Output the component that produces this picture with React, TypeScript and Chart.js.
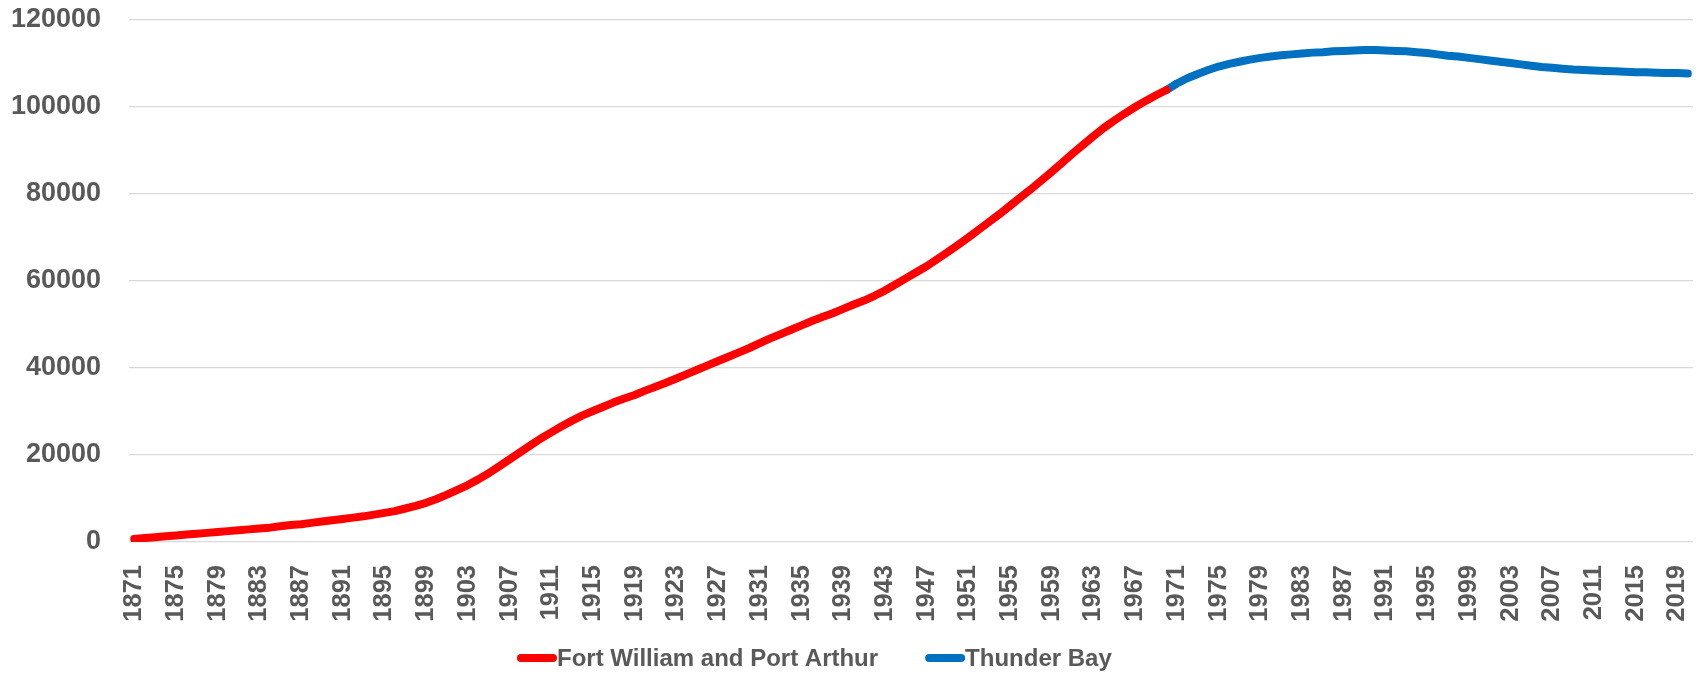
import React, { useEffect, useRef } from "react";
import { Chart, registerables } from "chart.js";

Chart.register(...registerables);

// Years 1871..2020 (one category per year)
const years: string[] = [
  "1871","1872","1873","1874","1875","1876","1877","1878","1879","1880",
  "1881","1882","1883","1884","1885","1886","1887","1888","1889","1890",
  "1891","1892","1893","1894","1895","1896","1897","1898","1899","1900",
  "1901","1902","1903","1904","1905","1906","1907","1908","1909","1910",
  "1911","1912","1913","1914","1915","1916","1917","1918","1919","1920",
  "1921","1922","1923","1924","1925","1926","1927","1928","1929","1930",
  "1931","1932","1933","1934","1935","1936","1937","1938","1939","1940",
  "1941","1942","1943","1944","1945","1946","1947","1948","1949","1950",
  "1951","1952","1953","1954","1955","1956","1957","1958","1959","1960",
  "1961","1962","1963","1964","1965","1966","1967","1968","1969","1970",
  "1971","1972","1973","1974","1975","1976","1977","1978","1979","1980",
  "1981","1982","1983","1984","1985","1986","1987","1988","1989","1990",
  "1991","1992","1993","1994","1995","1996","1997","1998","1999","2000",
  "2001","2002","2003","2004","2005","2006","2007","2008","2009","2010",
  "2011","2012","2013","2014","2015","2016","2017","2018","2019","2020",
];

// Fort William and Port Arthur, 1871..1970
const fortWilliamPortArthur: number[] = [
  700, 900, 1100, 1300, 1500, 1700, 1900, 2100, 2300, 2500,
  2700, 2900, 3100, 3300, 3600, 3900, 4100, 4400, 4700, 5000,
  5300, 5600, 5900, 6300, 6700, 7100, 7700, 8300, 9000, 9900,
  10900, 12000, 13100, 14400, 15800, 17400, 19000, 20600, 22200, 23800,
  25200, 26600, 27900, 29100, 30100, 31100, 32100, 33000, 33800, 34800,
  35700, 36600, 37600, 38600, 39600, 40600, 41600, 42600, 43600, 44600,
  45700, 46800, 47800, 48800, 49800, 50800, 51700, 52600, 53600, 54600,
  55500, 56600, 57800, 59200, 60600, 62000, 63400, 65000, 66600, 68300,
  70000, 71800, 73600, 75400, 77300, 79200, 81100, 83100, 85100, 87200,
  89300, 91300, 93300, 95200, 96900, 98500, 100000, 101400, 102700, 103900,
];

// Thunder Bay, 1970..2020
const thunderBay: number[] = [
  103900, 105400, 106600, 107600, 108500, 109300, 109900, 110400, 110900, 111300,
  111600, 111900, 112100, 112300, 112500, 112600, 112800, 112900, 113000, 113100,
  113100, 113000, 112900, 112800, 112600, 112400, 112100, 111800, 111600, 111300,
  111000, 110700, 110400, 110100, 109800, 109500, 109200, 109000, 108800, 108600,
  108500, 108400, 108300, 108200, 108100, 108000, 108000, 107900, 107800, 107800,
  107700,
];

const seriesNames: string[] = ["Fort William and Port Arthur", "Thunder Bay"];
const yTicks: number[] = [0, 20000, 40000, 60000, 80000, 100000, 120000];

const RED = "#FF0000";
const BLUE = "#0070C0";
const TEXT = "#595959";
const FONT = "'Liberation Sans', Arial, sans-serif";

const legendPlugin = {
  id: "customLegend",
  afterDraw(chart: any) {
    const ctx = chart.ctx;
    const datasets = chart.data.datasets;
    ctx.save();
    const y = 658;
    let x = 517;
    ctx.font = `bold 24px ${FONT}`;
    ctx.textBaseline = "middle";
    ctx.textAlign = "left";
    datasets.forEach((ds: any) => {
      ctx.strokeStyle = ds.borderColor;
      ctx.lineWidth = 8;
      ctx.lineCap = "round";
      ctx.beginPath();
      ctx.moveTo(x + 4, y);
      ctx.lineTo(x + 36, y);
      ctx.stroke();
      ctx.fillStyle = TEXT;
      const tx = x + 40;
      ctx.fillText(ds.label, tx, y + 1);
      x = tx + ctx.measureText(ds.label).width + 47;
    });
    ctx.restore();
  },
};

export default function App() {
  const ref = useRef<HTMLCanvasElement | null>(null);

  useEffect(() => {
    if (!ref.current) return;
    const n = years.length;
    const redData: (number | null)[] = years.map((_, i) =>
      i < fortWilliamPortArthur.length ? fortWilliamPortArthur[i] : null
    );
    const blueStart = n - thunderBay.length;
    const blueData: (number | null)[] = years.map((_, i) =>
      i >= blueStart ? thunderBay[i - blueStart] : null
    );

    const lineStyle = {
      borderWidth: 8,
      pointRadius: 0,
      borderCapStyle: "round" as const,
      borderJoinStyle: "round" as const,
      tension: 0,
      spanGaps: false,
    };

    const chart = new Chart(ref.current, {
      type: "line",
      data: {
        labels: years,
        datasets: [
          { label: seriesNames[0], data: redData, borderColor: RED, backgroundColor: RED, ...lineStyle },
          { label: seriesNames[1], data: blueData, borderColor: BLUE, backgroundColor: BLUE, ...lineStyle },
        ],
      },
      options: {
        animation: false,
        responsive: true,
        maintainAspectRatio: false,
        layout: { padding: { left: 11, right: 5, top: 20, bottom: 44 } },
        plugins: {
          legend: { display: false },
          tooltip: { enabled: false },
        },
        scales: {
          x: {
            type: "category",
            offset: true,
            grid: { display: false, drawTicks: false },
            border: { display: false },
            afterFit: (scale: any) => {
              scale.height = 87;
              scale.paddingLeft = 0;
              scale.paddingRight = 0;
            },
            ticks: {
              autoSkip: false,
              maxRotation: 90,
              minRotation: 90,
              padding: 23,
              color: TEXT,
              font: { family: FONT, size: 25.5, weight: "bold" },
              callback: (_v: any, i: number) => (i % 4 === 0 ? years[i] : null),
            },
          },
          y: {
            min: yTicks[0],
            max: yTicks[yTicks.length - 1],
            afterBuildTicks: (scale: any) => {
              scale.ticks = yTicks.map((v) => ({ value: v }));
            },
            afterFit: (scale: any) => {
              scale.width = 118;
              scale.paddingTop = 0;
              scale.paddingBottom = 0;
            },
            grid: { color: "#D9D9D9", lineWidth: 1.3, drawTicks: false },
            border: { display: false },
            ticks: {
              padding: 28,
              color: TEXT,
              font: { family: FONT, size: 27, weight: "bold" },
              callback: (v: any) => String(v),
            },
          },
        },
      },
      plugins: [legendPlugin],
    });
    return () => chart.destroy();
  }, []);

  return (
    <div style={{ position: "absolute", left: 0, top: 0, width: 1698, height: 673, background: "#fff" }}>
      <canvas ref={ref} />
    </div>
  );
}
